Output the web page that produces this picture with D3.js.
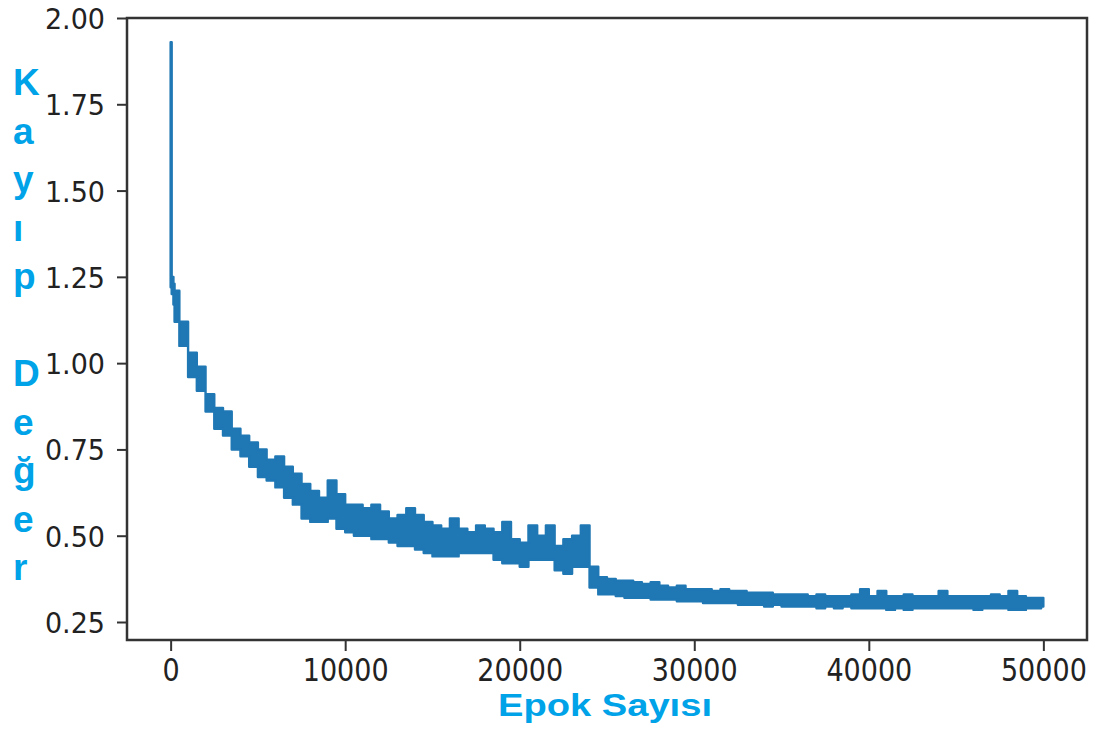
<!DOCTYPE html>
<html>
<head>
<meta charset="utf-8">
<script src="https://cdn.jsdelivr.net/npm/d3@7"></script>
<style>
  body { margin: 0; background: #fff; }
  svg { display: block; }
</style>
</head>
<body>
<script>
// ---- data ----
// the loss is very noisy, so it is kept as the band it fills:
// highest and lowest loss inside each 500-epoch bin
var earlyEpochs = [0, 120, 200];
var earlyHigh = [1.93, 1.25, 1.23];
var earlyLow = [1.22, 1.20, 1.17];

var binSize = 500;  // bins centred at 250, 750, ... 49750
var lossHigh = [
  1.21, 1.12, 1.03, 0.99, 0.91, 0.87, 0.86, 0.81, 0.79, 0.77,
  0.75, 0.72, 0.73, 0.70, 0.68, 0.65, 0.63, 0.61, 0.66, 0.62,
  0.59, 0.59, 0.58, 0.59, 0.57, 0.55, 0.56, 0.58, 0.56, 0.54,
  0.53, 0.52, 0.55, 0.52, 0.51, 0.53, 0.52, 0.51, 0.54, 0.49,
  0.48, 0.53, 0.50, 0.53, 0.47, 0.49, 0.50, 0.53, 0.41, 0.38,
  0.375, 0.37, 0.37, 0.365, 0.36, 0.365, 0.355, 0.35, 0.355, 0.345,
  0.345, 0.345, 0.34, 0.345, 0.34, 0.34, 0.335, 0.335, 0.335, 0.33,
  0.33, 0.33, 0.33, 0.325, 0.33, 0.325, 0.325, 0.325, 0.33, 0.345,
  0.325, 0.34, 0.325, 0.325, 0.33, 0.325, 0.325, 0.325, 0.34, 0.325,
  0.325, 0.325, 0.325, 0.325, 0.33, 0.325, 0.34, 0.325, 0.32, 0.32
];
var lossLow = [
  1.12, 1.05, 0.96, 0.92, 0.86, 0.81, 0.79, 0.75, 0.73, 0.70,
  0.67, 0.66, 0.64, 0.61, 0.59, 0.55, 0.54, 0.54, 0.55, 0.52,
  0.51, 0.50, 0.50, 0.49, 0.49, 0.48, 0.47, 0.47, 0.46, 0.45,
  0.44, 0.44, 0.44, 0.45, 0.45, 0.45, 0.45, 0.43, 0.42, 0.42,
  0.41, 0.43, 0.43, 0.43, 0.40, 0.39, 0.41, 0.41, 0.35, 0.33,
  0.33, 0.325, 0.32, 0.32, 0.32, 0.315, 0.315, 0.315, 0.31, 0.31,
  0.31, 0.305, 0.305, 0.305, 0.305, 0.30, 0.30, 0.30, 0.295, 0.30,
  0.295, 0.295, 0.295, 0.295, 0.29, 0.295, 0.29, 0.295, 0.29, 0.29,
  0.29, 0.29, 0.285, 0.29, 0.285, 0.29, 0.29, 0.29, 0.29, 0.29,
  0.29, 0.29, 0.285, 0.29, 0.29, 0.29, 0.285, 0.285, 0.29, 0.29
];
var lastEpoch = 49999, lastHigh = 0.32, lastLow = 0.295;

var xTicks = [0, 10000, 20000, 30000, 40000, 50000];
var yTicks = [0.25, 0.50, 0.75, 1.00, 1.25, 1.50, 1.75, 2.00];
var yLabelLines = ["K", "a", "y", "ı", "p", "", "D", "e", "ğ", "e", "r"];
var xLabelText = "Epok Sayısı";

// ---- layout ----
const w = 1095,
    h = 733;
const padL = 127, padR = 1087, padT = 18, padB = 640;
const ink = "#333333";
const blue = "#00a2e8";

const svg = d3.select("body")
    .append("svg")
    .attr("width", w)
    .attr("height", h);

var band = earlyEpochs.map((e, i) => ({ e: e, hi: earlyHigh[i], lo: earlyLow[i] }))
    .concat(lossHigh.map((d, i) => ({ e: binSize * i + binSize / 2, hi: d, lo: lossLow[i] })))
    .concat([{ e: lastEpoch, hi: lastHigh, lo: lastLow }]);

var xScale = d3.scaleLinear()
    .domain([-2500, 52500])
    .range([padL, padR]);

// 2.00 sits on the top frame, 0.25 is 18px above the bottom one
var yScale = d3.scaleLinear()
    .domain([0.25 - 18 / 345.14, 2.0])
    .range([padB, padT]);

var area = d3.area()
    .curve(d3.curveStep)
    .x((d) => xScale(d.e))
    .y0((d) => yScale(d.lo))
    .y1((d) => yScale(d.hi));

svg.append("path")
    .datum(band)
    .attr("fill", "#1f77b4")
    .attr("stroke", "#1f77b4")
    .attr("stroke-width", 2.4)
    .attr("stroke-linejoin", "round")
    .attr("d", area);

// frame
svg.append("rect")
    .attr("x", padL)
    .attr("y", padT)
    .attr("width", padR - padL)
    .attr("height", padB - padT)
    .attr("fill", "none")
    .attr("stroke", ink)
    .attr("stroke-width", 2.5);

// axes
var xAxis = d3.axisBottom(xScale)
    .tickValues(xTicks)
    .tickFormat(d3.format("d"))
    .tickSize(11)
    .tickSizeOuter(0);

var yAxis = d3.axisLeft(yScale)
    .tickValues(yTicks)
    .tickFormat(d3.format(".2f"))
    .tickSize(10)
    .tickSizeOuter(0);

var gx = svg.append("g")
    .attr("transform", "translate(0," + padB + ")")
    .call(xAxis);

var gy = svg.append("g")
    .attr("transform", "translate(" + padL + ",0)")
    .call(yAxis);

[gx, gy].forEach(function (g) {
    g.select(".domain").remove();
    g.selectAll(".tick line").attr("stroke", ink).attr("stroke-width", 2);
    g.selectAll(".tick text")
        .attr("fill", "#222")
        .style("font-family", "'DejaVu Sans', sans-serif")
        .style("font-size", "27px");
});

gx.selectAll(".tick text")
    .attr("y", 0)
    .attr("dy", "0.71em")
    .attr("transform", "translate(0,19) scale(1,1.17)");

gy.selectAll(".tick text")
    .attr("x", 0)
    .attr("dy", "0.36em")
    .attr("transform", "translate(-22,0) scale(1,1.08)");

// y label, one letter per line
svg.append("g")
    .selectAll("text")
    .data(yLabelLines)
    .enter()
    .append("text")
    .attr("x", 13)
    .attr("y", (d, i) => 95 + i * 48.5)
    .attr("fill", blue)
    .style("font-family", "'Liberation Sans', Arial, sans-serif")
    .style("font-weight", "bold")
    .style("font-size", "37px")
    .text((d) => d);

// x label
svg.append("text")
    .attr("x", 498)
    .attr("y", 716)
    .attr("textLength", 214)
    .attr("lengthAdjust", "spacingAndGlyphs")
    .attr("fill", blue)
    .style("font-family", "'Liberation Sans', Arial, sans-serif")
    .style("font-weight", "bold")
    .style("font-size", "31px")
    .text(xLabelText);
</script>
</body>
</html>
